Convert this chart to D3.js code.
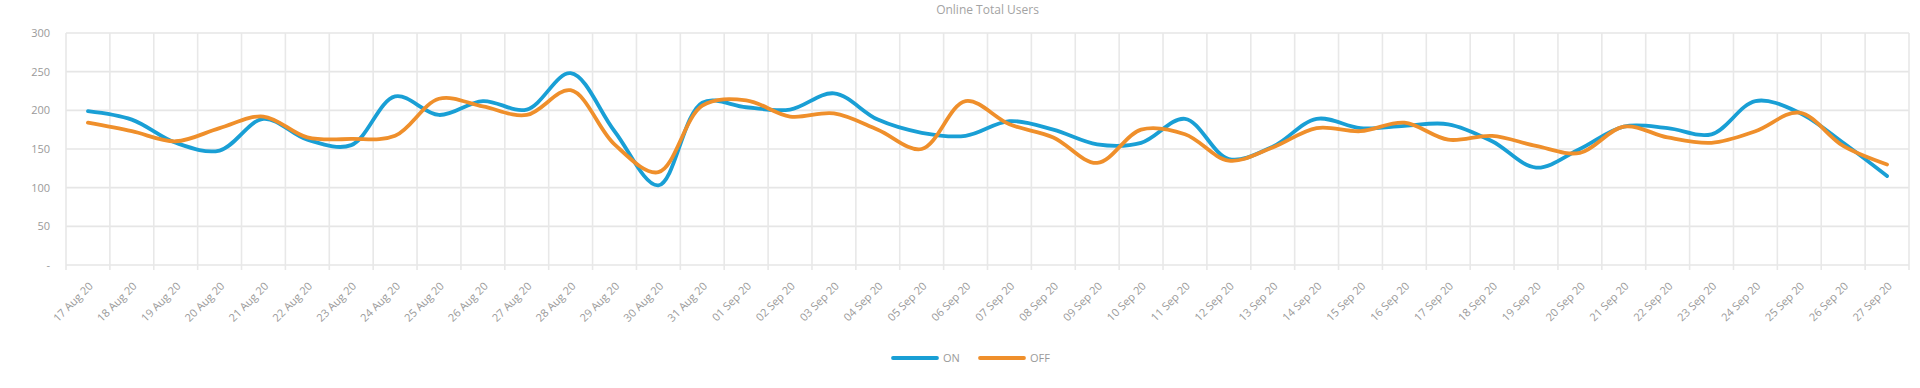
<!DOCTYPE html>
<html>
<head>
<meta charset="utf-8">
<script src="https://cdn.jsdelivr.net/npm/d3@7"></script>
<style>
  html, body { margin: 0; padding: 0; background: #fff; }
  svg { display: block; }
</style>
</head>
<body>
<div id="chart"></div>
<script>
// Online Total Users – ON vs OFF, daily, 17 Aug – 27 Sep 2020

const DATES = [
  "17 Aug 20","18 Aug 20","19 Aug 20","20 Aug 20","21 Aug 20","22 Aug 20","23 Aug 20",
  "24 Aug 20","25 Aug 20","26 Aug 20","27 Aug 20","28 Aug 20","29 Aug 20","30 Aug 20",
  "31 Aug 20","01 Sep 20","02 Sep 20","03 Sep 20","04 Sep 20","05 Sep 20","06 Sep 20",
  "07 Sep 20","08 Sep 20","09 Sep 20","10 Sep 20","11 Sep 20","12 Sep 20","13 Sep 20",
  "14 Sep 20","15 Sep 20","16 Sep 20","17 Sep 20","18 Sep 20","19 Sep 20","20 Sep 20",
  "21 Sep 20","22 Sep 20","23 Sep 20","24 Sep 20","25 Sep 20","26 Sep 20","27 Sep 20",
];
const ON_VALUES = [
  199,188,158,148,189,162,155,218,194,212,201,248,173,103,
  210,204,201,222,188,171,167,186,175,156,158,189,137,153,
  189,177,180,182,160,126,150,179,177,169,212,197,158,115,
];
const OFF_VALUES = [
  184,173,160,177,192,165,163,167,215,205,194,226,156,120,
  206,213,192,196,175,150,212,182,165,132,175,169,135,152,
  177,173,184,162,167,154,145,179,165,158,173,197,154,130,
];
const Y_TICKS = [0, 50, 100, 150, 200, 250, 300];
const SERIES = [
  { name: "ON",  values: ON_VALUES,  color: "#199fd5" },
  { name: "OFF", values: OFF_VALUES, color: "#ef8f2b" },
];

const totalW = 1920, totalH = 388;
const margin = { top: 33, right: 11, bottom: 123, left: 66 };
const W = totalW - margin.left - margin.right;
const H = totalH - margin.top - margin.bottom;

const svg = d3.select("#chart").append("svg")
  .attr("width", totalW).attr("height", totalH)
  .style("font-family", "'Open Sans', 'Liberation Sans', sans-serif");

/* ── Title ── */
svg.append("text")
  .attr("x", margin.left + W / 2).attr("y", 14)
  .attr("text-anchor", "middle").attr("font-size", 12).attr("fill", "#a3a3a3")
  .text("Online Total Users");

const g = svg.append("g").attr("transform", `translate(${margin.left},${margin.top})`);

/* ── Scales ── */
const x = d3.scaleBand().domain(DATES).range([0, W]).padding(0);
const y = d3.scaleLinear().domain([0, 300]).range([H, 0]);
const cx = d => x(d) + x.bandwidth() / 2;

/* ── Grid ── */
g.append("g")
  .selectAll("line").data(Y_TICKS).join("line")
  .attr("x1", 0).attr("x2", W)
  .attr("y1", d => y(d)).attr("y2", d => y(d))
  .attr("stroke", "#e6e6e6").attr("stroke-width", 1.6);

const bounds = DATES.map(d => x(d)).concat([W]);
g.append("g")
  .selectAll("line").data(bounds).join("line")
  .attr("x1", d => d).attr("x2", d => d)
  .attr("y1", 0).attr("y2", H + 5)
  .attr("stroke", "#e8e8e8").attr("stroke-width", 1.6);

/* ── Y axis ── */
g.append("g")
  .call(d3.axisLeft(y).tickValues(Y_TICKS).tickSize(0).tickPadding(16)
    .tickFormat(d => d === 0 ? "-" : d))
  .call(ax => ax.select(".domain").remove())
  .selectAll("text")
  .attr("font-size", 11).attr("fill", "#9a9a9a")
  .attr("font-family", "'Open Sans', 'Liberation Sans', sans-serif");

/* ── X labels ── */
g.append("g")
  .selectAll("text").data(DATES).join("text")
  .attr("transform", d => `translate(${cx(d) + 3},${H + 19}) rotate(-45)`)
  .attr("text-anchor", "end").attr("dy", "0.35em")
  .attr("font-size", 11).attr("fill", "#9a9a9a")
  .text(d => d);

/* ── Lines ── */
const line = d3.line()
  .x((v, i) => cx(DATES[i]))
  .y(v => y(v))
  .curve(d3.curveCatmullRom.alpha(0.5));

SERIES.forEach(s => {
  g.append("path")
    .datum(s.values)
    .attr("fill", "none")
    .attr("stroke", s.color)
    .attr("stroke-width", 3.8)
    .attr("stroke-linejoin", "round")
    .attr("stroke-linecap", "round")
    .attr("d", line);
});

/* ── Legend ── */
const legend = svg.append("g").attr("transform", "translate(893,358)");
let lx = 0;
SERIES.forEach(s => {
  legend.append("line")
    .attr("x1", lx).attr("x2", lx + 44).attr("y1", 0).attr("y2", 0)
    .attr("stroke", s.color).attr("stroke-width", 3.8).attr("stroke-linecap", "round");
  legend.append("text")
    .attr("x", lx + 50).attr("y", 0).attr("dy", "0.35em")
    .attr("font-size", 11).attr("fill", "#9a9a9a")
    .text(s.name);
  lx += 87;
});
</script>
</body>
</html>
